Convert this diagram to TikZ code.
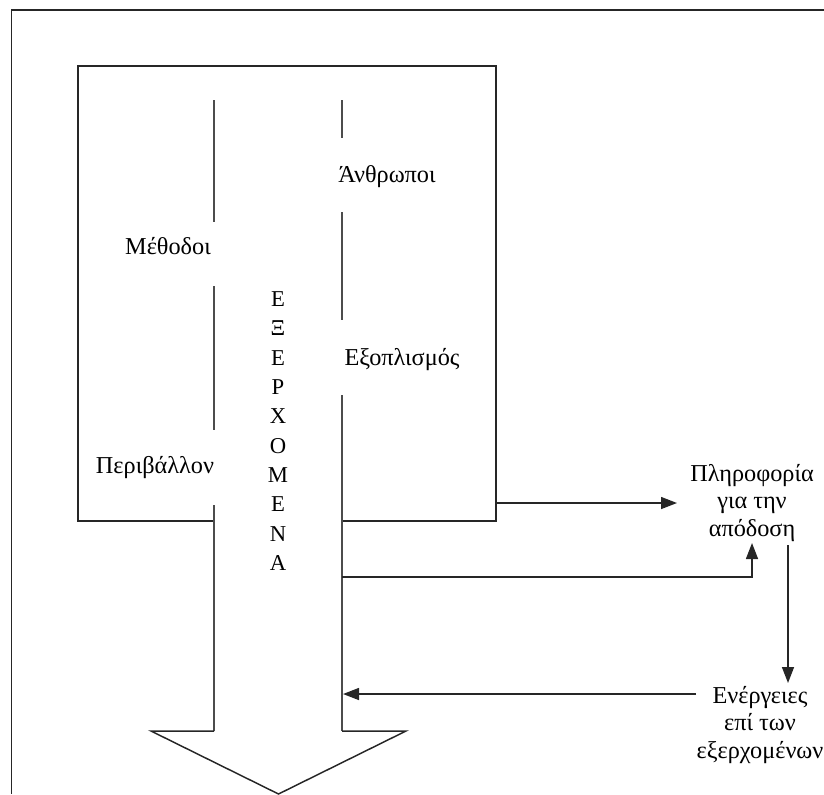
\documentclass[tikz,border=0pt]{standalone}
\usepackage{fontspec}
\setmainfont{Liberation Serif}
\usetikzlibrary{arrows.meta,calc}
\tikzset{
  lbl/.style={inner sep=0pt, font=\fontsize{18.2}{20.5}\selectfont, align=center},
  ln/.style={line width=1.1pt, black!85},
  shaft/.style={line width=1pt, black!70},
  arr/.style={ln, -{Triangle[length=12pt,width=9pt]}},
}
\begin{document}
\begin{tikzpicture}[x=0.75pt,y=-0.75pt]
\useasboundingbox (0,0) rectangle (824,794);
% outer frame (top and left)
\draw[ln] (824,10) -- (11.5,10) -- (11.5,794);
% box
\coordinate (bTL) at (78,66);
\coordinate (bTR) at (496,66);
\coordinate (bBR) at (496,521);
\coordinate (bBL) at (78,521);
\draw[ln] (214,521) -- (bBL) -- (bTL) -- (bTR) -- (bBR) -- (342,521);
% shaft lines
\draw[shaft] (214,100) -- (214,222);
\draw[shaft] (214,286) -- (214,430);
\draw[shaft] (214,505) -- (214,731);
\draw[shaft] (342,100) -- (342,138);
\draw[shaft] (342,212) -- (342,320);
\draw[shaft] (342,395) -- (342,731);
% arrow head
\draw[ln] (214,731) -- (151,731) -- (278.5,794) -- (406,731) -- (342,731);
% labels inside
\node[lbl] (meth) at (168,246) {Μέθοδοι};
\node[lbl] (anth) at (387,177) {Άνθρωποι};
\node[lbl] (exop) at (402,360) {Εξοπλισμός};
\node[lbl] (peri) at (155,468) {Περιβάλλον};
\node[lbl, font=\fontsize{17}{22}\selectfont] (exer) at (278,431)
  {Ε\\Ξ\\Ε\\Ρ\\Χ\\Ο\\Μ\\Ε\\Ν\\Α};
% right side labels
\node[lbl] (info) at (752,503) {Πληροφορία\\για την\\απόδοση};
\node[lbl] (act) at (760,725) {Ενέργειες\\επί των\\εξερχομένων};
% connector end points
\coordinate (c1) at (496,503);
\coordinate (c1e) at (677,503);
\coordinate (c2) at (342,577);
\coordinate (c2e) at (752,543);
\coordinate (c3) at (788,545);
\coordinate (c3e) at (788,683);
\coordinate (c4) at (696,694);
\coordinate (c4e) at (343,694);
\draw[arr] (c1) -- (c1e);
\draw[arr] (c2) -| (c2e);
\draw[arr] (c3) -- (c3e);
\draw[arr] (c4) -- (c4e);
\end{tikzpicture}
\end{document}
